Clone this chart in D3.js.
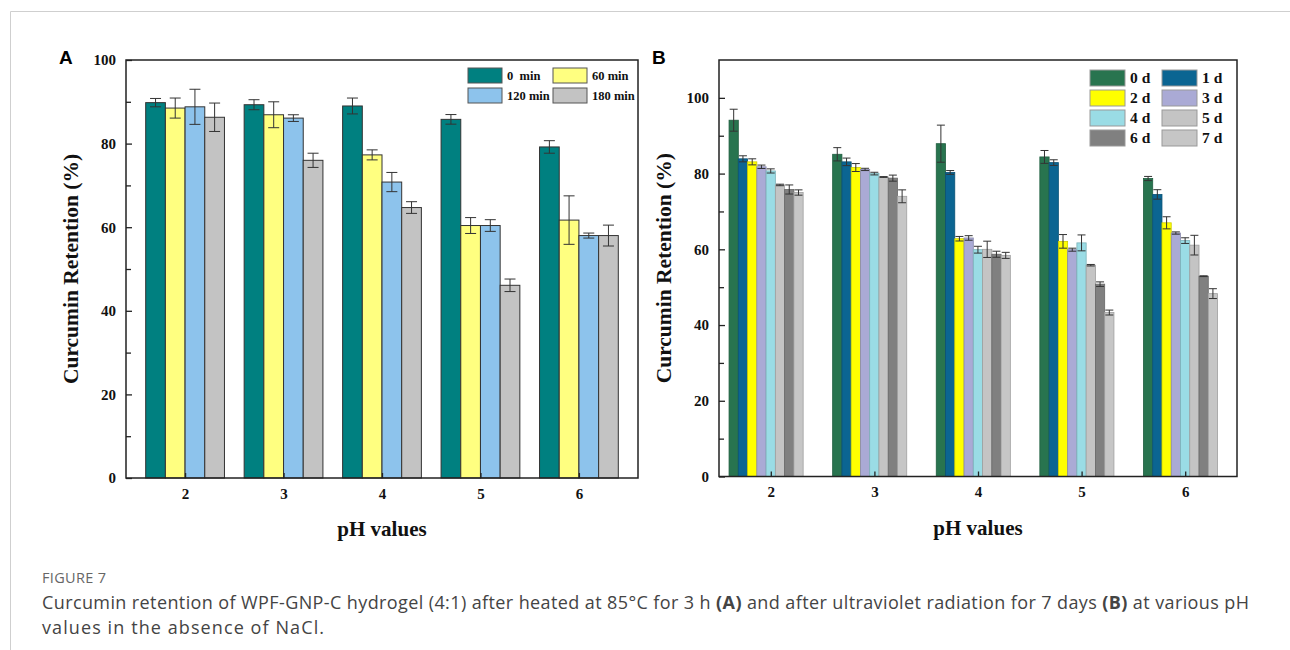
<!DOCTYPE html>
<html>
<head>
<meta charset="utf-8">
<script src="https://cdn.jsdelivr.net/npm/d3@7"></script>
<style>
  body { margin: 0; background: #fff; }
  svg { display: block; }
  .tick text { font-family: "Liberation Serif", "Times New Roman", serif; font-weight: bold; }
</style>
</head>
<body>
<svg id="fig" width="1290" height="650"></svg>
<script>
/*  */
/* Data */
/*  */

const phValues = [2, 3, 4, 5, 6];

// Panel A : heating at 85 C
const heatLabels = ["0  min", "60 min", "120 min", "180 min"];
const heat0 = [89.8, 89.3, 89.0, 85.8, 79.2];
const heat60 = [88.5, 86.9, 77.3, 60.4, 61.7];
const heat120 = [88.8, 86.1, 70.8, 60.4, 58.0];
const heat180 = [86.3, 76.0, 64.7, 46.1, 58.0];
const heat0Err = [1.0, 1.2, 1.9, 1.15, 1.5];
const heat60Err = [2.4, 3.1, 1.2, 1.9, 5.8];
const heat120Err = [4.2, 0.8, 2.3, 1.4, 0.6];
const heat180Err = [3.4, 1.7, 1.4, 1.5, 2.5];

// Panel B : UV radiation, days
const uvLabels = ["0 d", "1 d", "2 d", "3 d", "4 d", "5 d", "6 d", "7 d"];
const uv0 = [94.1, 85.1, 87.9, 84.4, 78.7];
const uv1 = [83.9, 83.1, 80.3, 82.9, 74.5];
const uv2 = [83.1, 81.6, 62.8, 62.1, 67.0];
const uv3 = [81.8, 81.1, 63.0, 59.9, 64.3];
const uv4 = [80.7, 80.0, 59.9, 61.7, 62.3];
const uv5 = [77.0, 79.1, 60.0, 55.8, 61.1];
const uv6 = [75.8, 78.8, 58.7, 50.8, 52.9];
const uv7 = [75.0, 74.0, 58.4, 43.3, 48.3];
const uv0Err = [2.9, 1.75, 4.9, 1.7, 0.55];
const uv1Err = [0.8, 1.0, 0.5, 0.75, 1.25];
const uv2Err = [0.8, 1.05, 0.6, 1.8, 1.6];
const uv3Err = [0.45, 0.3, 0.6, 0.4, 0.3];
const uv4Err = [0.55, 0.35, 0.9, 2.1, 0.75];
const uv5Err = [0.2, 0.1, 2.15, 0.2, 2.6];
const uv6Err = [1.2, 0.8, 0.8, 0.6, 0.1];
const uv7Err = [0.7, 1.7, 0.8, 0.65, 1.3];

const yMajor = [0, 20, 40, 60, 80, 100];
const yMinor = [10, 30, 50, 70, 90];

/*  */
/* Styles */
/*  */

const serif = '"Liberation Serif", "Times New Roman", serif';
const heatColors = ["#008080", "#FFFF80", "#8DC3EC", "#C3C3C3"];
const uvColors = ["#28744F", "#0B6592", "#FFFF00", "#AAAAD5", "#9ADCE5", "#C4C4C4", "#808080", "#C6C6C6"];

const svg = d3.select("#fig");
svg.append("rect").attr("width", 1290).attr("height", 650).attr("fill", "#fff");

// outer page frame
svg.append("path")
  .attr("d", "M10.5,650 V11.5 H1290")
  .attr("fill", "none")
  .attr("stroke", "#cfcfcf")
  .attr("stroke-width", 1);

function drawPanel(opt) {
  const x = d3.scaleLinear().domain(opt.xDomain).range([opt.left, opt.right]);
  const y = d3.scaleLinear().domain(opt.yDomain).range([opt.bottom, opt.top]);
  const g = svg.append("g");

  // table of bars
  const rows = [];
  opt.series.forEach((vals, s) => {
    vals.forEach((v, i) => {
      rows.push({ s: s, ph: phValues[i], v: v, e: opt.errors[s][i] });
    });
  });

  const bx = d => x(d.ph + opt.start + d.s * opt.barW);
  const bw = x(opt.barW) - x(0);

  g.selectAll("rect.bar")
    .data(rows)
    .join("rect")
    .attr("class", "bar")
    .attr("x", bx)
    .attr("y", d => y(d.v))
    .attr("width", bw)
    .attr("height", d => y(0) - y(d.v))
    .attr("fill", d => opt.colors[d.s])
    .attr("stroke", d => opt.strokes ? opt.strokes[d.s] : "#333")
    .attr("stroke-width", opt.barStroke);

  // error bars
  const eg = g.selectAll("g.err").data(rows).join("g").attr("class", "err")
    .attr("stroke", opt.errColor).attr("stroke-width", 1);
  eg.append("line")
    .attr("x1", d => bx(d) + bw / 2).attr("x2", d => bx(d) + bw / 2)
    .attr("y1", d => y(d.v - d.e)).attr("y2", d => y(d.v + d.e));
  eg.append("line")
    .attr("x1", d => bx(d) + bw / 2 - opt.cap).attr("x2", d => bx(d) + bw / 2 + opt.cap)
    .attr("y1", d => y(d.v + d.e)).attr("y2", d => y(d.v + d.e));
  eg.append("line")
    .attr("x1", d => bx(d) + bw / 2 - opt.cap).attr("x2", d => bx(d) + bw / 2 + opt.cap)
    .attr("y1", d => y(d.v - d.e)).attr("y2", d => y(d.v - d.e));

  // y axis (ticks inside)
  const yAxis = g.append("g")
    .attr("transform", `translate(${opt.left},0)`)
    .call(d3.axisLeft(y).tickValues(yMajor).tickSizeInner(-6).tickSizeOuter(0).tickPadding(10));
  yAxis.select(".domain").remove();
  yAxis.selectAll("text").attr("font-size", 15).attr("fill", "#111");
  yAxis.selectAll("line").attr("stroke", "#222").attr("stroke-width", 1.3);

  const yMin = g.append("g")
    .attr("transform", `translate(${opt.left},0)`)
    .call(d3.axisLeft(y).tickValues(yMinor).tickSizeInner(-5).tickSizeOuter(0).tickFormat(""));
  yMin.select(".domain").remove();
  yMin.selectAll("line").attr("stroke", "#222").attr("stroke-width", 1.3);

  // x axis (ticks inside)
  const xAxis = g.append("g")
    .attr("transform", `translate(0,${opt.bottom})`)
    .call(d3.axisBottom(x).tickValues(phValues).tickSizeInner(-5).tickSizeOuter(0).tickPadding(10).tickFormat(d3.format("d")));
  xAxis.select(".domain").remove();
  xAxis.selectAll("text").attr("font-size", 15).attr("fill", "#111");
  xAxis.selectAll("line").attr("stroke", "#222").attr("stroke-width", 1.3);

  // frame
  g.append("rect")
    .attr("x", opt.left).attr("y", opt.top)
    .attr("width", opt.right - opt.left).attr("height", opt.bottom - opt.top)
    .attr("fill", "none").attr("stroke", "#222").attr("stroke-width", 1.5);

  // axis titles
  g.append("text")
    .attr("x", (opt.left + opt.right) / 2).attr("y", opt.bottom + 58)
    .attr("text-anchor", "middle")
    .attr("font-family", serif).attr("font-weight", "bold").attr("font-size", 21)
    .attr("fill", "#111")
    .text("pH values");

  g.append("text")
    .attr("transform", `translate(${opt.left - 48},${(opt.top + opt.bottom) / 2}) rotate(-90)`)
    .attr("text-anchor", "middle")
    .attr("font-family", serif).attr("font-weight", "bold").attr("font-size", 21.5)
    .attr("fill", "#111")
    .text("Curcumin Retention (%)");

  // panel letter
  g.append("text")
    .attr("x", opt.letterX).attr("y", 64)
    .attr("font-family", '"Liberation Sans", Arial, sans-serif').attr("font-weight", "bold")
    .attr("font-size", 19).attr("fill", "#000")
    .text(opt.letter);

  // legend, two columns
  const lg = g.selectAll("g.leg").data(opt.labels).join("g").attr("class", "leg")
    .attr("transform", (d, i) => `translate(${opt.legX + (i % 2) * opt.legColW},${opt.legY + Math.floor(i / 2) * opt.legRowH})`);
  lg.append("rect")
    .attr("width", opt.swW).attr("height", opt.swH)
    .attr("fill", (d, i) => opt.colors[i])
    .attr("stroke", opt.legStroke).attr("stroke-width", 1);
  lg.append("text")
    .attr("x", opt.swW + 5).attr("y", opt.swH / 2)
    .attr("dy", "0.35em")
    .attr("font-family", serif).attr("font-weight", "bold").attr("font-size", opt.legFont)
    .attr("fill", "#111")
    .style("white-space", "pre")
    .text(d => d);
}

drawPanel({
  letter: "A", letterX: 59,
  left: 126, right: 638, top: 60, bottom: 478,
  xDomain: [1.4, 6.6], yDomain: [0, 100],
  series: [heat0, heat60, heat120, heat180],
  errors: [heat0Err, heat60Err, heat120Err, heat180Err],
  labels: heatLabels, colors: heatColors,
  barW: 0.2, start: -0.4, barStroke: 1, cap: 5.5, errColor: "#333",
  legX: 468, legY: 68, legColW: 85, legRowH: 20, swW: 34, swH: 15, legFont: 12.5, legStroke: "#555"
});

drawPanel({
  letter: "B", letterX: 652,
  left: 719, right: 1237, top: 60, bottom: 476.5,
  xDomain: [1.5, 6.5], yDomain: [0, 110],
  series: [uv0, uv1, uv2, uv3, uv4, uv5, uv6, uv7],
  errors: [uv0Err, uv1Err, uv2Err, uv3Err, uv4Err, uv5Err, uv6Err, uv7Err],
  labels: uvLabels, colors: uvColors,
  strokes: uvColors.map(c => d3.color(c).darker(0.6)),
  barW: 0.0894, start: -0.403, barStroke: 0.8, cap: 4, errColor: "#333",
  legX: 1090, legY: 70, legColW: 72, legRowH: 20, swW: 35, swH: 16, legFont: 15.5, legStroke: "#999"
});

/*  */
/* Caption */
/*  */

const sans = '"Open Sans", "Noto Sans", sans-serif';
svg.append("text")
  .attr("x", 42).attr("y", 583)
  .attr("font-family", sans).attr("font-size", 14.5).attr("fill", "#666")
  .attr("textLength", 64).attr("lengthAdjust", "spacing")
  .text("FIGURE 7");

const cap1 = svg.append("text")
  .attr("x", 42).attr("y", 609)
  .attr("font-family", sans).attr("font-size", 18).attr("fill", "#444")
  .attr("textLength", 1207).attr("lengthAdjust", "spacing");
cap1.append("tspan").text("Curcumin retention of WPF-GNP-C hydrogel (4:1) after heated at 85°C for 3 h ");
cap1.append("tspan").attr("font-weight", "bold").text("(A)");
cap1.append("tspan").text(" and after ultraviolet radiation for 7 days ");
cap1.append("tspan").attr("font-weight", "bold").text("(B)");
cap1.append("tspan").text(" at various pH");

svg.append("text")
  .attr("x", 42).attr("y", 634)
  .attr("font-family", sans).attr("font-size", 18).attr("fill", "#444")
  .attr("textLength", 282).attr("lengthAdjust", "spacing")
  .text("values in the absence of NaCl.");
</script>
</body>
</html>
